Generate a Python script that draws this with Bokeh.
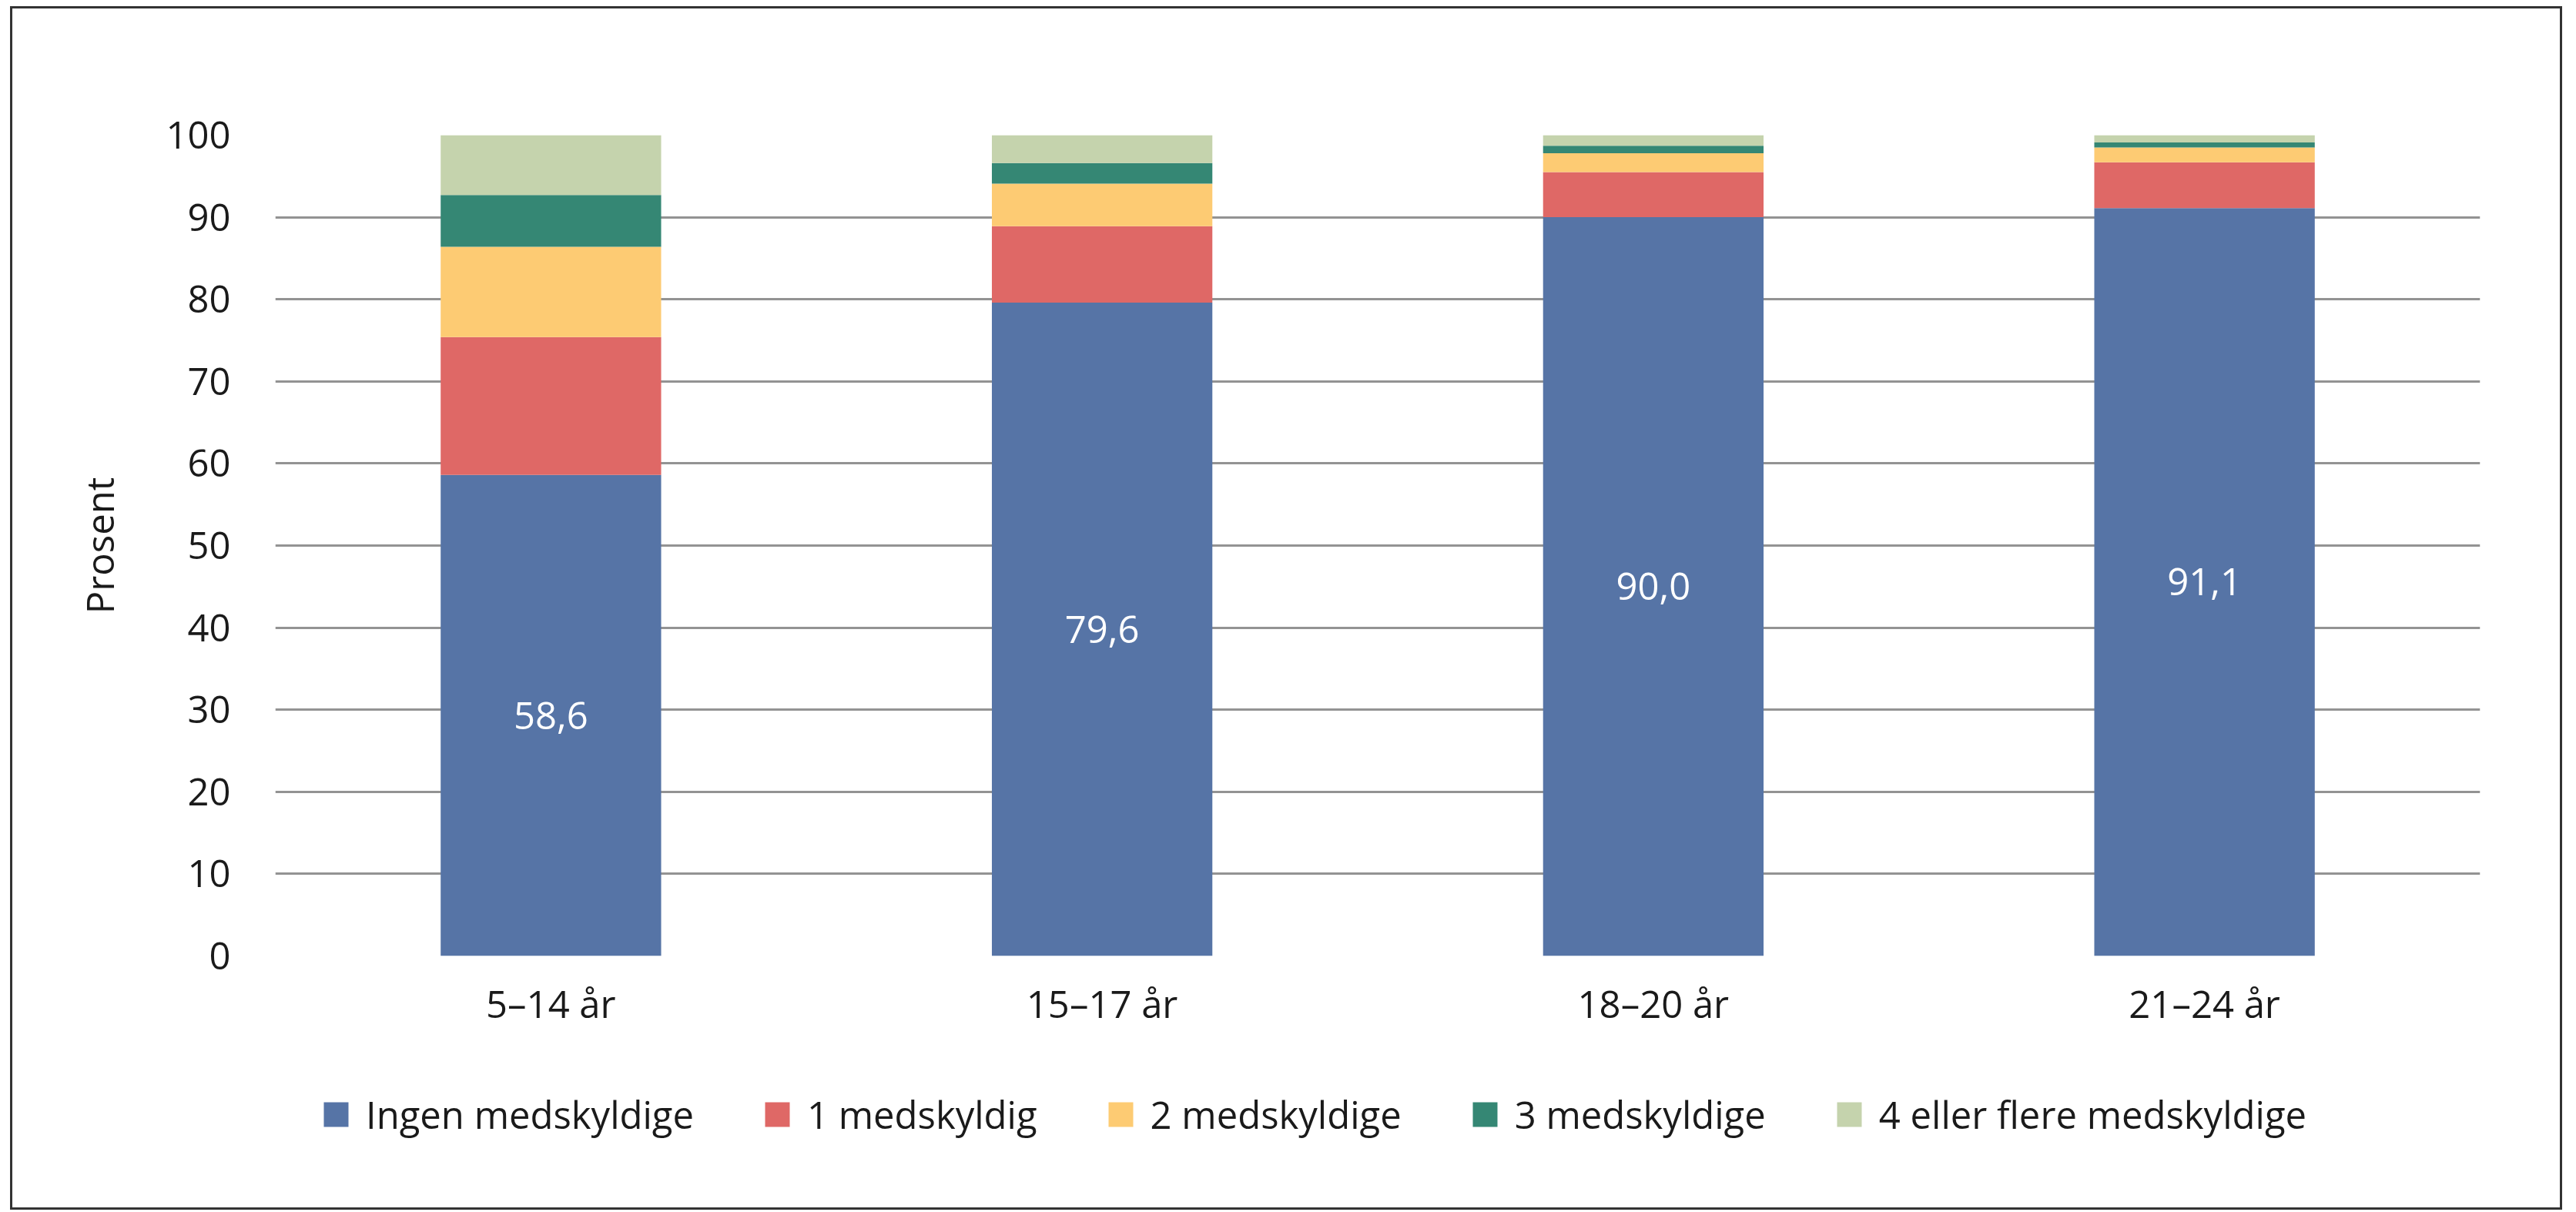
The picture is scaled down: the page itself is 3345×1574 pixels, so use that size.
from bokeh.plotting import figure
from bokeh.layouts import column
from bokeh.models import (FactorRange, Range1d, Legend, LegendItem,
                          ColumnDataSource, LabelSet, FixedTicker, InlineStyleSheet)
from bokeh.core.properties import value
from bokeh.embed import file_html
from bokeh.resources import INLINE

# ---- data ----
categories = ["5–14 år", "15–17 år", "18–20 år", "21–24 år"]
ingen = [58.6, 79.6, 90.0, 91.1]
en = [16.8, 9.3, 5.5, 5.6]
to = [11.0, 5.2, 2.3, 1.8]
tre = [6.3, 2.5, 0.9, 0.6]
fire = [7.3, 3.4, 1.3, 0.9]
series_names = ["Ingen medskyldige", "1 medskyldig", "2 medskyldige",
                "3 medskyldige", "4 eller flere medskyldige"]
colors = ["#5674a6", "#df6866", "#fdcb73", "#358774", "#c5d3ad"]
y_ticks = [0, 10, 20, 30, 40, 50, 60, 70, 80, 90, 100]
y_label = "Prosent"

FONT = "Open Sans"
FS = "49px"
TXT = "#1a1a1a"

W = 3337
H_CHART = 1345
H_LEG = 227

keys = ["s0", "s1", "s2", "s3", "s4"]
src = ColumnDataSource(dict(cat=categories, s0=ingen, s1=en, s2=to, s3=tre, s4=fire))

fig = figure(x_range=FactorRange(*categories), y_range=Range1d(0, 100),
             width=W, height=H_CHART, output_backend="svg", toolbar_location=None,
             min_border_left=357, min_border_right=W - 3220, min_border_top=175,
             min_border_bottom=H_CHART - 1241)

rs = fig.vbar_stack(keys, x="cat", width=0.4, source=src, fill_color=colors,
                    line_color=None)

# value labels in the blue segment
lab_src = ColumnDataSource(dict(cat=categories, mid=[v / 2 for v in ingen],
                                txt=[f"{v:.1f}".replace(".", ",") for v in ingen]))
fig.add_layout(LabelSet(x="cat", y="mid", text="txt", source=lab_src,
                        text_align="center", text_baseline="middle",
                        text_color="white", text_font=value(FONT),
                        text_font_size=FS))

# axes
fig.yaxis.ticker = FixedTicker(ticks=y_ticks)
fig.ygrid.ticker = FixedTicker(ticks=y_ticks)
fig.ygrid.grid_line_color = "#939393"
fig.ygrid.grid_line_width = 3
fig.xgrid.grid_line_color = None
fig.outline_line_color = None

for ax in (fig.xaxis[0], fig.yaxis[0]):
    ax.axis_line_color = None
    ax.major_tick_line_color = None
    ax.minor_tick_line_color = None
    ax.major_tick_out = 0
    ax.major_tick_in = 0
    ax.major_label_text_font = FONT
    ax.major_label_text_font_size = FS
    ax.major_label_text_color = TXT

fig.yaxis.major_label_standoff = 58
fig.xaxis.major_label_standoff = 28
fig.yaxis.axis_label = y_label
fig.yaxis.axis_label_text_font = FONT
fig.yaxis.axis_label_text_font_size = FS
fig.yaxis.axis_label_text_font_style = "normal"
fig.yaxis.axis_label_text_color = TXT
fig.yaxis.axis_label_standoff = 50

# ---- legend strip (separate canvas under the chart, frame aligned with chart) ----
leg = figure(width=W, height=H_LEG, output_backend="svg", toolbar_location=None,
             x_axis_location=None, y_axis_location=None,
             min_border=0, x_range=Range1d(0, 1), y_range=Range1d(0, 1))
leg.grid.grid_line_color = None
leg.outline_line_color = None
# zero-size proxy bars that only carry the legend swatch colours
leg_rs = [leg.vbar(x=[0], top=[0], bottom=[0], width=0, fill_color=c, line_color=None)
          for c in colors]

legend = Legend(items=[LegendItem(label=n, renderers=[r]) for n, r in zip(series_names, leg_rs)],
                location=(59, 92), orientation="horizontal",
                glyph_width=40, glyph_height=40, label_standoff=19, spacing=88,
                padding=0, margin=0, border_line_color=None, background_fill_alpha=0,
                label_text_font=FONT, label_text_font_size=FS, label_text_color=TXT)
leg.add_layout(legend)

p = column(fig, leg, spacing=0)
p.stylesheets = [InlineStyleSheet(css="""
:host { position: relative; }
:host::after { content: ''; position: absolute; left: 13px; top: 8px; right: 10px;
  bottom: 1px; border: 3.5px solid #333333; z-index: 100; pointer-events: none; }
""")]

open("out.html", "w").write(file_html(p, INLINE))
